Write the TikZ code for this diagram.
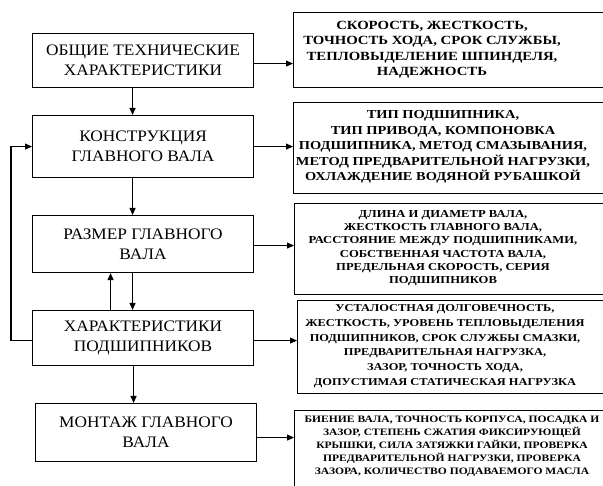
\documentclass[tikz,border=0pt]{standalone}
\usepackage{fontspec}
\setmainfont{Liberation Serif}[FakeStretch=1.08]
\newfontfamily\rfont{Liberation Serif}[FakeStretch=1.18]
\usetikzlibrary{arrows.meta,calc}
\begin{document}
\begin{tikzpicture}[x=1pt,y=-1pt,
  lbox/.style={draw, line width=1.1pt, anchor=north west, minimum width=221pt, inner sep=0pt, align=center, font=\fontsize{16}{20}\selectfont},
  rbox/.style={draw, line width=1.4pt, anchor=north west, minimum width=330pt, inner sep=0pt},
  rtext/.style={align=center, inner sep=0pt},
  arr/.style={line width=1.1pt, -{Triangle[length=7pt,width=6pt]}}]
\useasboundingbox (0,0) rectangle (603,486);
\clip (0,0) rectangle (603,486);
% left boxes
\node[lbox, minimum height=54pt] (b1) at (32,33) {ОБЩИЕ ТЕХНИЧЕСКИЕ\\ХАРАКТЕРИСТИКИ};
\node[lbox, minimum height=62pt] (b2) at (32,115) {КОНСТРУКЦИЯ\\ГЛАВНОГО ВАЛА};
\node[lbox, minimum height=57pt] (b3) at (32,215) {РАЗМЕР ГЛАВНОГО\\ВАЛА};
\node[lbox, minimum height=55pt] (b4) at (32,310) {ХАРАКТЕРИСТИКИ\\ПОДШИПНИКОВ};
\node[lbox, minimum height=58pt] (b5) at (35,403) {МОНТАЖ ГЛАВНОГО\\ВАЛА};
% right boxes
\node[rbox, minimum height=75pt] (r1) at (293,12) {};
\node[rbox, minimum height=91pt] (r2) at (293,102) {};
\node[rbox, minimum height=91pt] (r3) at (294,203) {};
\node[rbox, minimum height=93pt] (r4) at (297,300) {};
\node[rbox, minimum height=100pt] (r5) at (294,410) {};
\node[rtext, font=\rfont\bfseries\fontsize{12.5}{15.5}\selectfont] (t1) at (432,49.5) {СКОРОСТЬ, ЖЕСТКОСТЬ,\\ТОЧНОСТЬ ХОДА, СРОК СЛУЖБЫ,\\ТЕПЛОВЫДЕЛЕНИЕ ШПИНДЕЛЯ,\\НАДЕЖНОСТЬ};
\node[rtext, font=\rfont\bfseries\fontsize{12.2}{15.5}\selectfont] (t2) at (443,147) {ТИП ПОДШИПНИКА,\\ТИП ПРИВОДА, КОМПОНОВКА\\ПОДШИПНИКА, МЕТОД СМАЗЫВАНИЯ,\\МЕТОД ПРЕДВАРИТЕЛЬНОЙ НАГРУЗКИ,\\ОХЛАЖДЕНИЕ ВОДЯНОЙ РУБАШКОЙ};
\node[rtext, font=\rfont\bfseries\fontsize{10.7}{13.3}\selectfont] (t3) at (443,248) {ДЛИНА И ДИАМЕТР ВАЛА,\\ЖЕСТКОСТЬ ГЛАВНОГО ВАЛА,\\РАССТОЯНИЕ МЕЖДУ ПОДШИПНИКАМИ,\\СОБСТВЕННАЯ ЧАСТОТА ВАЛА,\\ПРЕДЕЛЬНАЯ СКОРОСТЬ, СЕРИЯ\\ПОДШИПНИКОВ};
\node[rtext, font=\rfont\bfseries\fontsize{10.5}{14.7}\selectfont] (t4) at (445,346) {УСТАЛОСТНАЯ ДОЛГОВЕЧНОСТЬ,\\ЖЕСТКОСТЬ, УРОВЕНЬ ТЕПЛОВЫДЕЛЕНИЯ\\ПОДШИПНИКОВ, СРОК СЛУЖБЫ СМАЗКИ,\\ПРЕДВАРИТЕЛЬНАЯ НАГРУЗКА,\\ЗАЗОР, ТОЧНОСТЬ ХОДА,\\ДОПУСТИМАЯ СТАТИЧЕСКАЯ НАГРУЗКА};
\node[rtext, font=\rfont\bfseries\fontsize{9.8}{13}\selectfont] (t5) at (452,446) {БИЕНИЕ ВАЛА, ТОЧНОСТЬ КОРПУСА, ПОСАДКА И\\ЗАЗОР, СТЕПЕНЬ СЖАТИЯ ФИКСИРУЮЩЕЙ\\КРЫШКИ, СИЛА ЗАТЯЖКИ ГАЙКИ, ПРОВЕРКА\\ПРЕДВАРИТЕЛЬНОЙ НАГРУЗКИ, ПРОВЕРКА\\ЗАЗОРА, КОЛИЧЕСТВО ПОДАВАЕМОГО МАСЛА};
% vertical arrows
\draw[arr] ([xshift=-10.5pt]b1.south) -- ([xshift=-10.5pt]b2.north);
\draw[arr] ([xshift=-10.5pt]b2.south) -- ([xshift=-10.5pt]b3.north);
\draw[arr] ([xshift=-10.5pt]b3.south) -- ([xshift=-10.5pt]b4.north);
\draw[arr] ([xshift=-32.5pt]b4.north) -- ([xshift=-32.5pt]b3.south);
\coordinate (d4) at ([xshift=-9.5pt]b4.south);
\draw[arr] (d4) -- (d4 |- b5.north);
% feedback
\draw[arr] ([yshift=-2.5pt]b4.west) -- ++(-21,0) |- (b2.west);
% horizontal arrows
\coordinate (h1) at ([yshift=-3pt]b1.east);
\draw[arr] (h1) -- (h1 -| r1.west);
\draw[arr] (b2.east) -- (b2.east -| r2.west);
\coordinate (h3) at ([yshift=-1.5pt]b3.east);
\draw[arr] (h3) -- (h3 -| r3.west);
\coordinate (h4) at ([yshift=-2.5pt]b4.east);
\draw[arr] (h4) -- (h4 -| r4.west);
\coordinate (h5) at ([yshift=-5pt]b5.east);
\draw[arr] (h5) -- (h5 -| r5.west);
\end{tikzpicture}
\end{document}
